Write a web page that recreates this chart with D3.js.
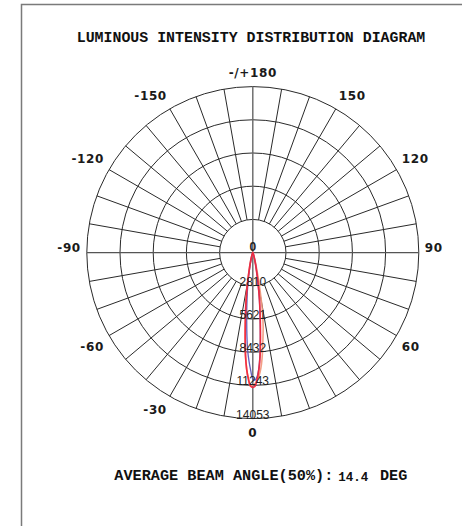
<!DOCTYPE html>
<html>
<head>
<meta charset="utf-8">
<script src="https://cdn.jsdelivr.net/npm/d3@7/dist/d3.min.js"></script>
<style>
  html, body { margin: 0; padding: 0; background: #fff; }
  svg { display: block; }
</style>
</head>
<body>
<svg id="chart" width="462" height="526"></svg>
<script>
// ---------- data ----------
const title = "LUMINOUS INTENSITY DISTRIBUTION DIAGRAM";
const beamLabel = "AVERAGE BEAM ANGLE(50%):";
const beamValue = "14.4";
const beamUnit = "DEG";

const ringTicks = [0, 2810, 5621, 8432, 11243, 14053];
const angleTickValues = [180, 150, 120, 90, 60, 0, -30, -60, -90, -120, -150];
const angleTickLabels = ["-/+180", "150", "120", "90", "60", "0", "-30", "-60", "-90", "-120", "-150"];

// signed angle from nadir (deg), negative = left
const angles = [-180, -150, -120, -90, -60, -40, -30, -25, -20, -18, -16, -14, -12, -10, -9, -8, -7, -6, -5, -4, -3, -2, -1,
                0, 1, 2, 3, 4, 5, 6, 7, 8, 9, 10, 12, 14, 16, 18, 20, 25, 30, 40, 60, 90, 120, 150];
// intensities (cd)
const seriesRed = [2, 2, 3, 5, 8, 15, 30, 60, 150, 250, 450, 800, 1400, 2450, 3200, 4100, 5000, 6100, 7400, 8800, 9900, 10700, 11300,
                   11420, 11300, 10700, 9900, 8800, 7400, 6100, 5000, 4100, 3200, 2450, 1400, 800, 450, 250, 150, 60, 30, 15, 8, 5, 3, 2];
const seriesBlue = [2, 2, 3, 5, 8, 14, 28, 55, 130, 210, 380, 650, 1150, 2050, 2600, 3300, 4000, 4900, 5900, 7100, 8300, 9200, 10000,
                    10700, 10800, 10500, 9800, 8700, 7300, 6000, 4900, 4000, 3100, 2400, 1380, 790, 440, 245, 145, 58, 28, 14, 8, 5, 3, 2];
const seriesOrange = [2, 2, 3, 5, 8, 15, 30, 60, 150, 250, 450, 800, 1400, 2450, 3200, 4100, 5000, 6100, 7400, 8800, 9900, 10700, 11300,
                      11200, 11100, 10800, 10400, 9800, 9000, 8000, 7100, 6300, 5300, 4200, 2300, 1150, 600, 320, 180, 70, 35, 15, 8, 5, 3, 2];

// ---------- layout ----------
const svg = d3.select("#chart");
const cx = 252.8, cy = 252.6, R = 166;
const rScale = d3.scaleLinear().domain([0, d3.max(ringTicks)]).range([0, R]);
const rad = d => d * Math.PI / 180;

// frame
svg.append("rect")
  .attr("x", 21.5).attr("y", 4.5).attr("width", 470).attr("height", 560)
  .attr("fill", "none").attr("stroke", "#7a7a7a").attr("stroke-width", 1.5);

// title
svg.append("text")
  .attr("x", 251).attr("y", 41.5)
  .attr("text-anchor", "middle")
  .attr("font-family", "'Liberation Mono', 'Courier New', monospace")
  .attr("font-weight", "bold").attr("font-size", 14.9)
  .attr("fill", "#111")
  .text(title);

const g = svg.append("g").attr("transform", `translate(${cx},${cy})`);

// rings
g.selectAll("circle.ring").data(ringTicks.slice(1)).enter()
  .append("circle").attr("class", "ring")
  .attr("r", d => rScale(d))
  .attr("fill", "none").attr("stroke", "#2a2a2a").attr("stroke-width", 1);

// spokes every 10 deg from first ring outward
const spokeAngles = d3.range(0, 360, 10).filter(a => a % 90 !== 0);
g.selectAll("line.spoke").data(spokeAngles).enter()
  .append("line").attr("class", "spoke")
  .attr("x1", d => rScale(ringTicks[1]) * Math.sin(rad(d)))
  .attr("y1", d => rScale(ringTicks[1]) * Math.cos(rad(d)))
  .attr("x2", d => R * Math.sin(rad(d)))
  .attr("y2", d => R * Math.cos(rad(d)))
  .attr("stroke", "#2a2a2a").attr("stroke-width", 1);

// main axes through center
g.append("line").attr("x1", -R).attr("x2", R).attr("y1", 0).attr("y2", 0)
  .attr("stroke", "#555").attr("stroke-width", 1.2);
g.append("line").attr("x1", 0).attr("x2", 0).attr("y1", -R).attr("y2", R)
  .attr("stroke", "#666").attr("stroke-width", 1.4);

// curves
const line = d3.lineRadial()
  .angle((d, i) => Math.PI - rad(angles[i]))
  .radius(d => rScale(d))
  .curve(d3.curveCatmullRomClosed.alpha(0.5));

const curves = [
  { values: seriesOrange, color: "#f29a80", width: 1.6, op: 0.95 },
  { values: seriesBlue, color: "#5a55b8", width: 1.3, op: 0.95 },
  { values: seriesRed, color: "#f2283c", width: 1.7, op: 0.95 }
];
g.selectAll("path.curve").data(curves).enter()
  .append("path").attr("class", "curve")
  .attr("d", d => line(d.values))
  .attr("fill", "none")
  .attr("stroke", d => d.color)
  .attr("stroke-width", d => d.width)
  .attr("stroke-opacity", d => d.op);

// ring labels
g.selectAll("text.rlab").data(ringTicks).enter()
  .append("text").attr("class", "rlab")
  .attr("x", 0)
  .attr("y", d => d === 0 ? -6 : rScale(d) - 4)
  .attr("text-anchor", "middle")
  .attr("dominant-baseline", "central")
  .attr("font-family", "'Liberation Sans', Arial, sans-serif")
  .attr("font-size", 12)
  .attr("font-weight", d => d === 0 ? "bold" : "normal")
  .attr("fill", "#222")
  .text(d => d);

// angle labels
const LR = 172;
g.selectAll("text.alab").data(angleTickValues).enter()
  .append("text").attr("class", "alab")
  .attr("x", d => LR * Math.sin(rad(d)))
  .attr("y", d => {
    const c = Math.cos(rad(d));
    const s = Math.abs(c) < 0.01 ? -4.5 : 8 * Math.sign(c);
    return LR * c + s;
  })
  .attr("text-anchor", d => {
    const s = Math.sin(rad(d));
    return s > 0.01 ? "start" : (s < -0.01 ? "end" : "middle");
  })
  .attr("dominant-baseline", "central")
  .attr("font-family", "'DejaVu Sans', sans-serif")
  .attr("font-weight", "bold")
  .attr("font-size", 12)
  .attr("letter-spacing", 0.6)
  .attr("fill", "#1a1a1a")
  .text((d, i) => angleTickLabels[i]);

// beam angle line
const by = 479.5;
svg.append("text").attr("x", 114.3).attr("y", by)
  .attr("font-family", "'Liberation Mono', 'Courier New', monospace")
  .attr("font-weight", "bold").attr("font-size", 15.2).attr("fill", "#111")
  .attr("textLength", 219).attr("lengthAdjust", "spacingAndGlyphs")
  .text(beamLabel);
svg.append("text").attr("x", 338.3).attr("y", by + 1)
  .attr("font-family", "'Liberation Mono', 'Courier New', monospace")
  .attr("font-weight", "bold").attr("font-size", 13.5).attr("fill", "#111")
  .attr("textLength", 30).attr("lengthAdjust", "spacingAndGlyphs")
  .text(beamValue);
svg.append("text").attr("x", 380).attr("y", by)
  .attr("font-family", "'Liberation Mono', 'Courier New', monospace")
  .attr("font-weight", "bold").attr("font-size", 15.2).attr("fill", "#111")
  .attr("textLength", 27.3).attr("lengthAdjust", "spacingAndGlyphs")
  .text(beamUnit);
</script>
</body>
</html>
